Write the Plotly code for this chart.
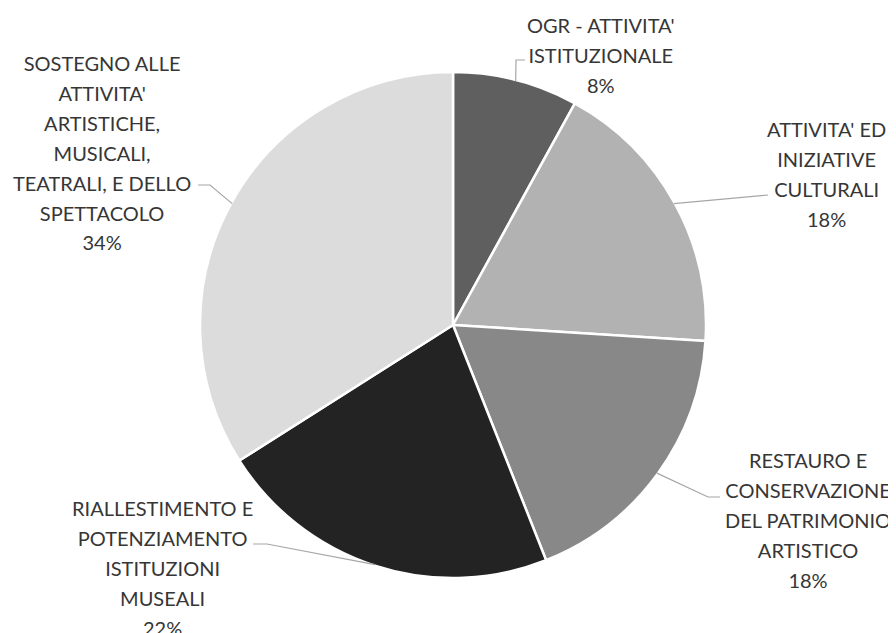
import numpy as np
import plotly.graph_objects as go

# slice data, clockwise from 12 o'clock
labels = [
    "OGR - ATTIVITA'<br>ISTITUZIONALE",
    "ATTIVITA' ED<br>INIZIATIVE<br>CULTURALI",
    "RESTAURO E<br>CONSERVAZIONE<br>DEL PATRIMONIO<br>ARTISTICO",
    "RIALLESTIMENTO E<br>POTENZIAMENTO<br>ISTITUZIONI<br>MUSEALI",
    "SOSTEGNO ALLE<br>ATTIVITA'<br>ARTISTICHE,<br>MUSICALI,<br>TEATRALI, E DELLO<br>SPETTACOLO",
]
values = [8, 18, 18, 22, 34]
colors = ["#5f5f5f", "#b2b2b2", "#888888", "#232323", "#dcdcdc"]

# label block centres and leader-line elbows (pixel coords of the 896x633 page)
label_pos = [(601, 55), (826, 174), (808, 520), (162, 568), (102, 152)]
elbows = [
    [(516, 60), (525, 60)],
    [(768, 195)],
    [(708, 497), (720, 497)],
    [(267, 544), (253, 544)],
    [(210, 185), (198, 185)],
]

PAGE_W, PAGE_H = 896, 633
OFF = 8  # default body margin of the html page
W, H = PAGE_W - OFF, PAGE_H - OFF
cx, cy, r = 453, 325, 253


def px(x):
    return (x - OFF) / W


def py(y):
    return 1 - (y - OFF) / H


fig = go.Figure()
fig.add_trace(go.Pie(
    values=values,
    labels=[l.replace("<br>", " ") for l in labels],
    sort=False,
    direction="clockwise",
    rotation=0,
    textinfo="none",
    hoverinfo="label+percent",
    marker=dict(colors=colors, line=dict(color="white", width=2.5)),
    domain=dict(x=[px(cx - r), px(cx + r)], y=[py(cy + r), py(cy - r)]),
    showlegend=False,
))

total = sum(values)
cum = np.cumsum([0] + values)
annotations = []
shapes = []
for i, lab in enumerate(labels):
    pct = f"{round(100 * values[i] / total)}%"
    lines = lab.split("<br>") + [pct]
    txt = "<br>".join(f"<span style='font-size:20px'>{s}</span>" for s in lines)
    x, y = label_pos[i]
    annotations.append(dict(
        x=x, y=y, xref="x", yref="y", text=txt, showarrow=False,
        xanchor="center", yanchor="middle", align="center",
        font=dict(family="Lato", size=23, color="#363636"),
    ))
    # leader line from the middle of the slice edge
    mid = 2 * np.pi * (cum[i] + values[i] / 2) / total
    sx, sy = cx + (r - 1) * np.sin(mid), cy - (r - 1) * np.cos(mid)
    pts = [(sx, sy)] + elbows[i]
    path = "M " + " L ".join(f"{a:.1f},{b:.1f}" for a, b in pts)
    shapes.append(dict(type="path", path=path, xref="x", yref="y",
                       line=dict(color="#a6a6a6", width=1.2)))

fig.update_layout(
    width=W, height=H,
    margin=dict(l=0, r=0, t=0, b=0),
    paper_bgcolor="white",
    plot_bgcolor="rgba(0,0,0,0)",
    xaxis=dict(range=[OFF, PAGE_W], visible=False, fixedrange=True),
    yaxis=dict(range=[PAGE_H, OFF], visible=False, fixedrange=True),
    annotations=annotations,
    shapes=shapes,
)

fig.write_html("out.html")
